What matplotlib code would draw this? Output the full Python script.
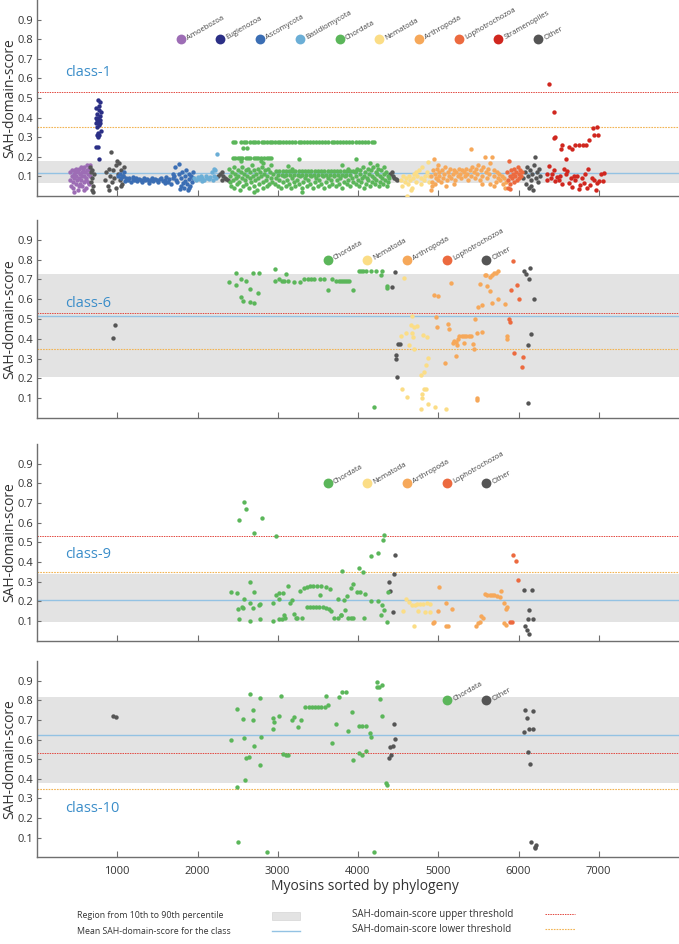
import matplotlib.pyplot as plt
import numpy as np
from matplotlib.patches import Rectangle
from matplotlib.lines import Line2D

plt.rcParams['font.family'] = ['Open Sans', 'DejaVu Sans']

# colours of the taxa
colors = {
    'Amoebozoa': '#9d6db5',
    'Euglenozoa': '#2b2f86',
    'Ascomycota': '#3b6eb4',
    'Basidiomycota': '#6baed6',
    'Chordata': '#5bb65a',
    'Nematoda': '#fbdd86',
    'Arthropoda': '#f6a85a',
    'Lophotrochozoa': '#ec6a3f',
    'Stramenopiles': '#d0271f',
    'Other': '#555555',
}

upper_threshold = 0.53
lower_threshold = 0.35

# ---------------- class-1 ----------------
c1_band = (0.068, 0.179)
c1_mean = 0.117
c1_legend = ['Amoebozoa', 'Euglenozoa', 'Ascomycota', 'Basidiomycota', 'Chordata',
             'Nematoda', 'Arthropoda', 'Lophotrochozoa', 'Stramenopiles', 'Other']
c1_legend_x = [1790, 2285, 2780, 3275, 3770, 4265, 4760, 5255, 5750, 6245]

c1_amoebozoa = [(405, .12), (415, .08), (420, .05), (430, .10), (435, .13), (445, .07), (450, .04),
                (455, .11), (465, .09), (470, .13), (480, .06), (485, .10), (490, .14), (500, .08),
                (505, .03), (510, .12), (520, .09), (525, .14), (530, .06), (540, .11), (545, .15),
                (550, .08), (560, .12), (565, .05), (570, .14), (580, .10), (585, .07), (590, .15),
                (600, .12), (605, .04), (610, .09), (620, .13), (625, .16), (630, .07), (640, .11),
                (645, .14), (650, .06), (660, .10), (665, .16), (670, .13), (455, .02), (520, .05),
                (580, .03), (615, .08), (475, .12), (560, .10)]
c1_euglenozoa = [(760, .49), (790, .48), (775, .46), (740, .45), (770, .44), (800, .43), (750, .42),
                 (785, .41), (735, .40), (765, .40), (745, .39), (780, .39), (760, .38), (730, .37),
                 (790, .37), (770, .36), (750, .35), (800, .33), (760, .32), (775, .31), (745, .31),
                 (765, .30), (735, .25), (760, .25), (770, .19)]
c1_ascomycota = [(1010, .10), (1030, .11), (1050, .09), (1070, .10), (1090, .12), (1110, .09), (1130, .08),
                 (1150, .09), (1170, .07), (1190, .085), (1210, .08), (1230, .09), (1250, .075), (1270, .085),
                 (1290, .08), (1310, .07), (1330, .09), (1350, .08), (1370, .085), (1390, .075), (1410, .08),
                 (1430, .09), (1450, .075), (1470, .085), (1490, .08), (1510, .07), (1530, .085), (1550, .09),
                 (1570, .075), (1590, .08), (1610, .095), (1630, .07), (1650, .085), (1670, .06), (1690, .09),
                 (1710, .10), (1720, .15), (1730, .08), (1750, .07), (1764, .163), (1770, .11), (1790, .05),
                 (1800, .09), (1810, .12), (1830, .04), (1840, .10), (1850, .075), (1860, .13), (1870, .06),
                 (1880, .03), (1890, .11), (1900, .085), (1910, .05), (1920, .10), (1930, .07), (1940, .12),
                 (1950, .09), (1700, .11), (1600, .065), (1400, .065), (1200, .095), (1100, .075), (1780, .035),
                 (1820, .065), (1895, .04)]
c1_basidiomycota = [(1960, .09), (1980, .08), (2000, .095), (2020, .085), (2040, .10), (2060, .09), (2080, .08),
                    (2100, .10), (2120, .09), (2140, .085), (2160, .095), (2180, .12), (2200, .14), (2210, .10),
                    (2220, .13), (2237, .214), (2230, .09), (2190, .08), (2050, .075)]
c1_chordata = [(2390, .14), (2400, .07), (2410, .10), (2420, .05), (2430, .12), (2440, .08), (2450, .15),
               (2460, .04), (2470, .11), (2480, .09), (2490, .06), (2500, .13), (2510, .10), (2520, .07),
               (2530, .03), (2540, .12), (2550, .09), (2560, .15), (2570, .05), (2580, .11), (2590, .08),
               (2600, .13), (2610, .06), (2620, .10), (2630, .14), (2640, .04), (2650, .09), (2660, .12),
               (2670, .07), (2680, .16), (2690, .10), (2700, .05), (2710, .13), (2720, .08), (2730, .11),
               (2740, .03), (2750, .14), (2760, .09), (2770, .06), (2780, .12), (2790, .10), (2800, .15),
               (2810, .07), (2820, .04), (2830, .11), (2840, .13), (2850, .08), (2860, .05), (2870, .10),
               (2880, .14), (2890, .06), (2900, .12), (2910, .09), (2920, .16), (2930, .07), (2940, .11),
               (2790, .18), (2810, .17), (2540, .18), (2705, .02), (2573, .243), (2623, .243), (3266, .19),
               (3972, .19),
               (2960, .06), (2980, .09), (3000, .05), (3020, .08), (3040, .04), (3060, .07), (3080, .10),
               (3100, .05), (3120, .08), (3140, .06), (3160, .04), (3180, .09), (3200, .07), (3220, .05),
               (3240, .08), (3260, .06), (3280, .10), (3300, .04), (3320, .07), (3340, .09), (3360, .05),
               (3380, .08), (3400, .06), (3420, .10), (3440, .04), (3460, .07), (3480, .09), (3500, .05),
               (3520, .08), (3540, .06), (3560, .10), (3580, .04), (3600, .07), (3620, .09), (3640, .05),
               (3660, .08), (3680, .06), (3700, .10), (3720, .05), (3740, .08), (3760, .06), (3780, .09),
               (3800, .04), (3820, .07), (3840, .10), (3860, .06), (3880, .08), (3900, .05), (3920, .09),
               (3940, .07), (3180, .14), (3300, .02), (3800, .16), (3870, .14), (3130, .155),
               (3960, .12), (3970, .06), (3980, .10), (3990, .14), (4000, .08), (4010, .05), (4020, .11),
               (4030, .13), (4040, .07), (4050, .09), (4060, .15), (4070, .04), (4080, .10), (4090, .12),
               (4100, .06), (4110, .09), (4120, .14), (4130, .08), (4140, .11), (4150, .05), (4160, .13),
               (4170, .07), (4180, .10), (4190, .15), (4200, .09), (4210, .06), (4220, .12), (4230, .08),
               (4240, .11), (4250, .14), (4260, .05), (4270, .10), (4280, .07), (4290, .13), (4300, .09),
               (4310, .06), (4320, .11), (4330, .15), (4340, .08), (4350, .12), (4360, .05), (4370, .10),
               (4380, .07), (4390, .09), (4150, .17), (4240, .16)]
# rows of identical scores among the chordate sequences
c1_chordata_row28 = [2440, 2470, 2540, 2575, 2610, 2650, 2690, 2720, 2750, 2800, 2830, 2860, 2900, 2930,
                     2970, 3000, 3030, 3070, 3100, 3140, 3180, 3210, 3260, 3290, 3330, 3370, 3400, 3440,
                     3480, 3510, 3550, 3590, 3620, 3670, 3700, 3740, 3780, 3810, 3850, 3890, 3930, 3970,
                     4010, 4050, 4090, 4130, 4170, 4200]
c1_chordata_row28_y = 0.275
c1_chordata_row19 = [2440, 2470, 2500, 2530, 2560, 2600, 2630, 2660, 2700, 2730, 2760, 2790, 2830, 2860,
                     2890, 2920]
c1_chordata_row19_y = 0.195
c1_chordata_row12 = [2980, 3020, 3060, 3100, 3140, 3180, 3220, 3260, 3300, 3340, 3380, 3420, 3460, 3500,
                     3540, 3580, 3620, 3660, 3700, 3740, 3780, 3820, 3860, 3900, 3940, 3980]
c1_chordata_row12_y = 0.127
c1_chordata_row10 = [3000, 3050, 3100, 3150, 3200, 3250, 3300, 3350, 3400, 3450, 3500, 3550, 3600, 3650,
                     3700, 3750, 3800, 3850, 3900]
c1_chordata_row10_y = 0.105
c1_nematoda = [(4530, .08), (4550, .05), (4560, .10), (4580, .07), (4600, .09), (4610, .00), (4620, .06),
               (4640, .10), (4650, .08), (4670, .04), (4690, .09), (4700, .11), (4720, .07), (4740, .10),
               (4760, .13), (4780, .06), (4790, .09), (4800, .15), (4820, .08), (4840, .10), (4860, .12),
               (4870, .175), (4880, .07), (4890, .10), (4660, .03), (4725, .12)]
c1_arthropoda = [(4905, .03), (4915, .10), (4925, .07), (4935, .13), (4945, .19), (4955, .06), (4965, .11),
                 (4975, .09), (4985, .14), (4995, .08), (5005, .12), (5015, .10), (5030, .07), (5045, .13),
                 (5060, .09), (5075, .11), (5090, .15), (5105, .08), (5120, .12), (5135, .10), (5150, .14),
                 (5165, .09), (5180, .11), (5195, .13), (5210, .08), (5225, .12), (5240, .10), (5255, .14),
                 (5270, .11), (5285, .09), (5300, .13), (5315, .12), (5330, .10), (5345, .14), (5360, .11),
                 (5375, .08), (5390, .13), (5403, .24), (5410, .10), (5425, .15), (5440, .12), (5455, .09),
                 (5470, .14), (5485, .11), (5500, .16), (5515, .08), (5530, .13), (5545, .10), (5560, .15),
                 (5578, .20), (5590, .12), (5605, .09), (5620, .14), (5635, .11), (5650, .17), (5673, .20),
                 (5690, .13), (5700, .10), (5715, .07), (5730, .12), (5745, .09), (5760, .11), (5775, .08),
                 (5790, .10), (5805, .06), (5820, .09), (5835, .04), (5850, .07), (4920, .05), (5000, .16),
                 (5100, .05), (5200, .06), (5550, .06), (5700, .05), (5640, .06)]
c1_lophotrochozoa = [(5860, .12), (5870, .08), (5880, .18), (5890, .10), (5900, .06), (5910, .13), (5920, .09),
                     (5930, .11), (5940, .07), (5950, .14), (5960, .10), (5970, .12), (5980, .08), (5990, .15),
                     (6000, .11), (6010, .09), (6020, .13), (6030, .10), (6040, .12), (5875, .04), (5895, .035)]
c1_stramenopiles = [(6383, .571), (6440, .43), (6445, .296), (6460, .30), (6545, .26), (6525, .24), (6630, .25),
                    (6670, .24), (6700, .262), (6760, .262), (6800, .262), (6845, .262), (6877, .286),
                    (6930, .345), (6972, .35), (6940, .31), (6993, .31), (6586, .187), (6386, .155), (6440, .13),
                    (6420, .11), (6480, .095), (6500, .08), (6460, .075), (6400, .09), (6520, .10), (6540, .06),
                    (6570, .14), (6590, .11), (6610, .125), (6630, .065), (6650, .09), (6670, .045), (6690, .10),
                    (6710, .08), (6730, .10), (6750, .035), (6770, .055), (6790, .09), (6810, .065), (6830, .11),
                    (6850, .04), (6860, .14), (6890, .055), (6910, .09), (6940, .08), (6960, .03), (6980, .065),
                    (7000, .078), (7030, .11), (7055, .078), (7070, .115), (6360, .11), (6350, .08)]
c1_other = [(660, .15), (675, .12), (690, .09), (700, .05), (680, .03), (695, .02), (670, .07), (705, .11),
            (685, .13), (850, .08), (865, .12), (880, .05), (895, .14), (910, .10), (925, .226), (935, .07),
            (950, .13), (965, .09), (980, .16), (990, .04), (1000, .18), (1010, .11), (1025, .17), (1035, .08),
            (1045, .13), (1060, .06), (1075, .10), (1085, .15), (900, .03), (1050, .05), (2260, .10),
            (2280, .11), (2300, .12), (2320, .10), (2340, .09), (2360, .085), (2380, .08), (2300, .08),
            (4400, .11), (4420, .12), (4430, .10), (4450, .09), (4470, .085), (4490, .08), (6060, .09),
            (6075, .12), (6090, .06), (6100, .15), (6115, .10), (6130, .04), (6140, .13), (6155, .08),
            (6170, .11), (6180, .03), (6195, .16), (6205, .20), (6215, .09), (6230, .12), (6245, .07),
            (6260, .14), (6270, .10), (6150, .05)]

# ---------------- class-6 ----------------
c6_band = (0.209, 0.729)
c6_mean = 0.515
c6_legend = ['Chordata', 'Nematoda', 'Arthropoda', 'Lophotrochozoa', 'Other']
c6_legend_x = [3620, 4115, 4610, 5105, 5600]
c6_chordata = [(2394, .685), (2481, .734), (2536, .704), (2481, .67), (2606, .692), (2540, .611), (2565, .593),
               (2660, .653), (2693, .734), (2660, .586), (2700, .582), (2768, .734), (2760, .633), (2963, .754),
               (2963, .692), (3013, .70), (3055, .692), (3080, .692), (3130, .692), (3100, .729), (3208, .689),
               (3274, .689), (3333, .70), (3374, .70), (3416, .70), (3457, .70), (3523, .70), (3573, .70),
               (3627, .648), (3680, .70), (3723, .692), (3764, .692), (3785, .692), (3810, .692), (3835, .692),
               (3860, .692), (3890, .692), (3943, .648), (4013, .744), (4040, .744), (4068, .744), (4096, .744),
               (4158, .744), (4220, .744), (4303, .744), (4283, .72), (4366, .667), (4366, .657), (4196, .056)]
c6_nematoda = [(4573, .705), (4669, .515), (4665, .47), (4700, .46), (4730, .465), (4603, .43), (4669, .43),
               (4540, .416), (4684, .41), (4810, .42), (4864, .41), (4630, .37), (4700, .35), (4872, .305),
               (4850, .27), (4825, .23), (4780, .215), (4548, .148), (4825, .145), (4850, .145), (4795, .122),
               (4610, .104), (4800, .102), (4870, .072), (4790, .045), (4955, .055), (5100, .044)]
c6_arthropoda = [(4972, .51), (4985, .46), (4943, .623), (4996, .618), (5154, .682), (5121, .473), (5138, .448),
                 (5080, .276), (5216, .315), (5180, .38), (5195, .39), (5215, .385), (5238, .37), (5258, .414),
                 (5290, .414), (5320, .414), (5350, .414), (5380, .414), (5412, .414), (5246, .40), (5320, .38),
                 (5432, .375), (5445, .348), (5478, .428), (5549, .433), (5457, .50), (5499, .559), (5544, .569),
                 (5515, .675), (5578, .724), (5598, .724), (5611, .665), (5640, .641), (5643, .71), (5670, .72),
                 (5690, .73), (5715, .735), (5743, .742), (5674, .579), (5747, .60), (5830, .577), (5852, .414),
                 (5860, .40), (5481, .099), (5481, .091)]
c6_lophotrochozoa = [(5930, .791), (5976, .67), (5901, .648), (6001, .60), (5876, .50), (5897, .483),
                     (5947, .328), (6051, .31), (6047, .26)]
c6_other = [(971, .468), (950, .406), (4466, .736), (4424, .662), (4500, .374), (4520, .376), (4476, .317),
            (4478, .30), (4486, .207), (6068, .742), (6089, .727), (6147, .758), (6134, .70), (6192, .603),
            (6155, .424), (6118, .37), (6122, .077)]

# ---------------- class-9 ----------------
c9_band = (0.095, 0.337)
c9_mean = 0.206
c9_legend = ['Chordata', 'Nematoda', 'Arthropoda', 'Lophotrochozoa', 'Other']
c9_legend_x = [3620, 4115, 4610, 5105, 5600]
c9_chordata = [(2577, .706), (2610, .667), (2523, .613), (2800, .625), (2700, .549), (2975, .532), (2415, .247),
               (2498, .24), (2660, .30), (2700, .247), (2578, .21), (2510, .16), (2550, .17), (2570, .168),
               (2648, .19), (2690, .168), (2768, .18), (2780, .187), (2515, .108), (2660, .10), (2780, .108),
               (2938, .19), (2975, .232), (3020, .24), (3070, .243), (3010, .212), (3130, .28), (3180, .207),
               (3155, .19), (2945, .10), (3013, .11), (3055, .11), (3080, .13), (3090, .115), (3203, .136),
               (3228, .115), (3245, .115), (3300, .115), (3283, .25), (3325, .265), (3362, .27), (3400, .275),
               (3435, .28), (3490, .275), (3545, .275), (3600, .27), (3648, .26), (3362, .172), (3400, .172),
               (3440, .172), (3480, .172), (3520, .172), (3560, .172), (3600, .168), (3640, .16), (3665, .15),
               (3532, .232), (3700, .115), (3745, .115), (3745, .21), (3785, .13), (3806, .356), (4013, .37),
               (4068, .35), (4167, .43), (4245, .444), (4308, .511), (4320, .538), (3943, .29), (3910, .266),
               (3868, .227), (3826, .206), (3993, .247), (4030, .247), (4084, .238), (4167, .20), (4245, .20),
               (4303, .18), (4320, .157), (4283, .132), (3785, .13), (3835, .157), (3876, .115), (3910, .115),
               (3943, .115), (4071, .115), (4358, .093), (4374, .249)]
c9_nematoda = [(4603, .21), (4635, .195), (4669, .18), (4705, .18), (4735, .185), (4775, .185), (4815, .185),
               (4855, .19), (4900, .185), (4557, .149), (4747, .152), (4834, .145), (4900, .145), (4694, .076)]
c9_arthropoda = [(5010, .271), (5097, .19), (5167, .16), (4992, .152), (4943, .093), (4935, .088), (5097, .076),
                 (5126, .076), (5475, .076), (5498, .088), (5520, .093), (5533, .127), (5556, .115), (5578, .235),
                 (5610, .233), (5640, .233), (5668, .233), (5695, .23), (5728, .225), (5764, .223), (5785, .254),
                 (5814, .19), (5840, .16), (5860, .17), (5818, .088), (5848, .081)]
c9_lophotrochozoa = [(5934, .435), (5972, .405), (5997, .308), (5893, .095), (5917, .095)]
c9_other = [(4458, .435), (4446, .337), (4392, .296), (4400, .254), (4437, .147), (6063, .257), (6171, .257),
            (6134, .157), (6113, .11), (6184, .11), (6080, .074), (6105, .056), (6130, .035)]

# ---------------- class-10 ----------------
c10_band = (0.377, 0.819)
c10_mean = 0.625
c10_legend = ['Chordata', 'Other']
c10_legend_x = [5105, 5600]
c10_chordata = [(2415, .60), (2498, .758), (2494, .36), (2506, .076), (2569, .707), (2577, .608), (2598, .394),
                (2610, .506), (2644, .512), (2652, .834), (2693, .70), (2693, .75), (2702, .566), (2785, .81),
                (2789, .613), (2785, .469), (2868, .028), (2938, .709), (2955, .69), (2946, .656), (3013, .719),
                (3038, .82), (3071, .526), (3100, .52), (3125, .52), (3175, .70), (3208, .713), (3250, .663),
                (3287, .70), (3340, .768), (3385, .768), (3425, .768), (3465, .768), (3505, .768), (3545, .768),
                (3585, .768), (3625, .775), (3600, .823), (3670, .583), (3728, .681), (3765, .817), (3806, .843),
                (3847, .843), (3876, .644), (3922, .741), (3943, .498), (4013, .669), (4055, .669), (4096, .669),
                (4013, .533), (4046, .52), (4105, .54), (4154, .634), (4163, .615), (4200, .028), (4237, .895),
                (4241, .87), (4262, .87), (4295, .876), (4275, .809), (4295, .719), (4345, .377), (4357, .368)]
c10_other = [(950, .72), (987, .714), (4453, .681), (4466, .605), (4400, .562), (4432, .567), (4416, .523),
             (4391, .506), (6080, .751), (6184, .746), (6101, .709), (6134, .656), (6184, .656), (6072, .64),
             (6118, .537), (6143, .474), (6150, .078), (6213, .062), (6210, .052), (6208, .045)]


def row(xs, y):
    return [(x, y) for x in xs]


c1_groups = [
    ('Amoebozoa', c1_amoebozoa), ('Other', c1_other), ('Euglenozoa', c1_euglenozoa),
    ('Ascomycota', c1_ascomycota), ('Basidiomycota', c1_basidiomycota),
    ('Chordata', c1_chordata + row(c1_chordata_row28, c1_chordata_row28_y)
     + row(c1_chordata_row19, c1_chordata_row19_y) + row(c1_chordata_row12, c1_chordata_row12_y)
     + row(c1_chordata_row10, c1_chordata_row10_y)),
    ('Nematoda', c1_nematoda), ('Arthropoda', c1_arthropoda),
    ('Lophotrochozoa', c1_lophotrochozoa), ('Stramenopiles', c1_stramenopiles),
]
c6_groups = [('Other', c6_other), ('Chordata', c6_chordata), ('Nematoda', c6_nematoda),
             ('Arthropoda', c6_arthropoda), ('Lophotrochozoa', c6_lophotrochozoa)]
c9_groups = [('Other', c9_other), ('Chordata', c9_chordata), ('Nematoda', c9_nematoda),
             ('Arthropoda', c9_arthropoda), ('Lophotrochozoa', c9_lophotrochozoa)]
c10_groups = [('Other', c10_other), ('Chordata', c10_chordata)]

panels = [
    ('class-1', c1_groups, c1_band, c1_mean, c1_legend, c1_legend_x, 0.63),
    ('class-6', c6_groups, c6_band, c6_mean, c6_legend, c6_legend_x, 0.58),
    ('class-9', c9_groups, c9_band, c9_mean, c9_legend, c9_legend_x, 0.44),
    ('class-10', c10_groups, c10_band, c10_mean, c10_legend, c10_legend_x, 0.25),
]
# [left, bottom, width, height] of the four panels
rects = [
    [0.0545, 0.7924, 0.9455, 0.2076],
    [0.0545, 0.5572, 0.9455, 0.2097],
    [0.0545, 0.3214, 0.9455, 0.2084],
    [0.0545, 0.0919, 0.9455, 0.2077],
]

spine_col = '#6f6f6f'
text_col = '#333333'
band_col = '#e3e3e3'
mean_col = '#93c2e3'
upper_col = '#e2473f'
lower_col = '#f2b453'

fig = plt.figure(figsize=(6.79, 9.44), dpi=100)

for i, (name, groups, band, mean, leg, leg_x, label_y) in enumerate(panels):
    ax = fig.add_axes(rects[i])
    ax.set_xlim(0, 8000)
    ax.set_ylim(0, 1.0)
    ax.axhspan(band[0], band[1], color=band_col, lw=0, zorder=0)
    ax.axhline(mean, color=mean_col, lw=1.0, zorder=1)
    ax.axhline(upper_threshold, color=upper_col, lw=0.7, ls=(0, (1.5, 1)), zorder=1)
    ax.axhline(lower_threshold, color=lower_col, lw=0.8, ls=(0, (1.5, 1)), zorder=1)

    for taxon, pts in groups:
        pts = np.array(pts)
        ax.scatter(pts[:, 0], pts[:, 1], s=10, color=colors[taxon], lw=0, zorder=3)

    for taxon, lx in zip(leg, leg_x):
        ax.scatter([lx], [0.8], s=50, color=colors[taxon], lw=0, zorder=3)
        ax.annotate(taxon, (lx, 0.8), xytext=(6, -1.5), textcoords='offset points',
                    rotation=30, rotation_mode='anchor', ha='left', va='bottom',
                    fontsize=5.5, color='#444444')

    ax.text(350, label_y, name, color='#3a8dc9', fontsize=10.5, ha='left', va='center')

    for side in ['top', 'right']:
        ax.spines[side].set_visible(False)
    for side in ['left', 'bottom']:
        ax.spines[side].set_color(spine_col)
        ax.spines[side].set_linewidth(1.0)

    ax.set_yticks(np.arange(1, 10) / 10)
    ax.set_yticklabels(['0.%d' % k for k in range(1, 10)])
    ax.set_xticks([1000, 2000, 3000, 4000, 5000, 6000, 7000])
    ax.tick_params(axis='both', direction='in', colors=spine_col, labelcolor=text_col,
                   labelsize=8, width=0.8)
    ax.tick_params(axis='y', length=3, pad=3)
    ax.tick_params(axis='x', length=4, pad=6)
    if i < 3:
        ax.tick_params(axis='x', labelbottom=False)
    ax.set_ylabel('SAH-domain-score', fontsize=10, color=text_col)
    ax.yaxis.set_label_coords(-0.031, 0.5)

fig.text(0.537, 0.0604, 'Myosins sorted by phylogeny', ha='center', va='center',
         fontsize=10, color=text_col)

# legend at the bottom
row1_y = 1 - 916 / 944
row2_y = 1 - 931 / 944
fig.text(0.113, row1_y, 'Region from 10th to 90th percentile', fontsize=6.3, color=text_col, va='center')
fig.text(0.113, row2_y, 'Mean SAH-domain-score for the class', fontsize=6.3, color=text_col, va='center')
fig.text(0.518, row1_y + 0.002, 'SAH-domain-score upper threshold', fontsize=7, color=text_col, va='center')
fig.text(0.518, row2_y + 0.002, 'SAH-domain-score lower threshold', fontsize=7, color=text_col, va='center')
fig.patches.append(Rectangle((0.401, row1_y - 0.004), 0.041, 0.008, transform=fig.transFigure,
                             facecolor=band_col, edgecolor='#cfcfcf', lw=0.4))
fig.lines.append(Line2D([0.401, 0.442], [row2_y, row2_y], transform=fig.transFigure,
                        color=mean_col, lw=1.0))
fig.lines.append(Line2D([0.803, 0.847], [row1_y + 0.002, row1_y + 0.002], transform=fig.transFigure,
                        color=upper_col, lw=0.7, ls=(0, (1.5, 1))))
fig.lines.append(Line2D([0.803, 0.847], [row2_y + 0.002, row2_y + 0.002], transform=fig.transFigure,
                        color=lower_col, lw=0.8, ls=(0, (1.5, 1))))

fig.savefig('out.png', dpi=100)
